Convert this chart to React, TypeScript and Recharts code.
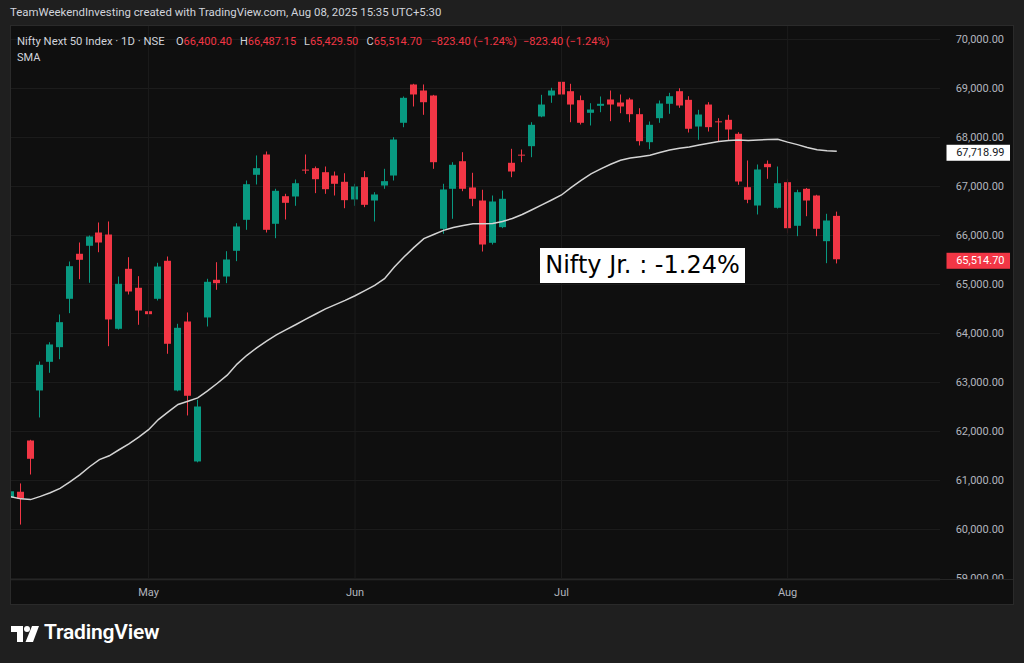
import React from 'react';
import { ComposedChart, Bar, Line, XAxis, YAxis, CartesianGrid, ReferenceLine } from 'recharts';

const TEAL = '#089981';
const RED = '#f23645';
const GRID = '#1c1c1c';
const AXIS_TEXT = '#b2b5be';
const FONT = 'Roboto, "Liberation Sans", sans-serif';

const dates = [
  '2025-04-08', '2025-04-09', '2025-04-11', '2025-04-15', '2025-04-16', '2025-04-17', '2025-04-21', '2025-04-22',
  '2025-04-23', '2025-04-24', '2025-04-25', '2025-04-28', '2025-04-29', '2025-04-30', '2025-05-02', '2025-05-05',
  '2025-05-06', '2025-05-07', '2025-05-08', '2025-05-09', '2025-05-12', '2025-05-13', '2025-05-14', '2025-05-15',
  '2025-05-16', '2025-05-19', '2025-05-20', '2025-05-21', '2025-05-22', '2025-05-23', '2025-05-26', '2025-05-27',
  '2025-05-28', '2025-05-29', '2025-05-30', '2025-06-02', '2025-06-03', '2025-06-04', '2025-06-05', '2025-06-06',
  '2025-06-09', '2025-06-10', '2025-06-11', '2025-06-12', '2025-06-13', '2025-06-16', '2025-06-17', '2025-06-18',
  '2025-06-19', '2025-06-20', '2025-06-23', '2025-06-24', '2025-06-25', '2025-06-26', '2025-06-27', '2025-06-30',
  '2025-07-01', '2025-07-02', '2025-07-03', '2025-07-04', '2025-07-07', '2025-07-08', '2025-07-09', '2025-07-10',
  '2025-07-11', '2025-07-14', '2025-07-15', '2025-07-16', '2025-07-17', '2025-07-18', '2025-07-21', '2025-07-22',
  '2025-07-23', '2025-07-24', '2025-07-25', '2025-07-28', '2025-07-29', '2025-07-30', '2025-07-31', '2025-08-01',
  '2025-08-04', '2025-08-05', '2025-08-06', '2025-08-07', '2025-08-08',
];

const opens = [
  60650, 60770, 61816, 62837, 63422, 63721, 64708, 65627, 65790, 66061, 66020, 64096, 65320, 64933, 64455, 64708,
  65484, 62837, 64245, 61388, 64327, 65096, 65163, 65688, 66320, 67239, 67653, 66239, 66802, 66796, 67345, 67374,
  67292, 67224, 67096, 66735, 67190, 66714, 67020, 67224, 68300, 69082, 68959, 68857, 66137, 66953, 67516, 66980,
  66714, 65851, 66170, 67484, 67650, 67823, 68429, 68857, 69137, 68945, 68762, 68504, 68647, 68776, 68714, 68776,
  68476, 67904, 68394, 68688, 68945, 68769, 68224, 68673, 68330, 68361, 68076, 66986, 66612, 67463, 66565, 67088,
  66198, 66953, 66816, 65884, 66400.4,
];
const highs = [
  60790, 60940, 61830, 63429, 63822, 64388, 65469, 65857, 66000, 66265, 66286, 65163, 65557, 65170, 65096, 65443,
  65571, 64198, 64429, 62647, 65116, 65455, 65680, 66251, 67122, 67633, 67714, 66953, 66851, 67143, 67653, 67408,
  67408, 67306, 67271, 67055, 67313, 66884, 67361, 68006, 68837, 69096, 69082, 68870, 67055, 67496, 67700, 67280,
  66933, 66816, 66918, 67769, 67755, 68312, 68871, 69014, 69149, 69096, 68857, 68700, 68837, 68959, 68878, 68810,
  68598, 68327, 68755, 68912, 69006, 68843, 68565, 68721, 68394, 68463, 68108, 67531, 67449, 67531, 67408, 67157,
  66933, 66970, 66830, 66443, 66487.15,
];
const lows = [
  60620, 60100, 61122, 62286, 63198, 63475, 64415, 65108, 65035, 65659, 63741, 64080, 64796, 64178, 64129, 64673,
  63586, 62820, 62327, 61370, 64143, 64892, 65027, 65476, 66116, 67041, 66061, 65945, 66327, 66606, 67259, 66864,
  66851, 66816, 66557, 66606, 66578, 66286, 66953, 67122, 68210, 68633, 68463, 67361, 66035, 66341, 66904, 66598,
  65673, 65816, 66150, 67190, 67496, 67598, 68414, 68708, 68653, 68312, 68265, 68245, 68516, 68333, 68496, 68312,
  67837, 67761, 68300, 68484, 68606, 68102, 67953, 68122, 67918, 67939, 67035, 66659, 66429, 67157, 66550, 66047,
  65986, 66394, 65986, 65435, 65429.5,
];
const closes = [
  60780, 60630, 61443, 63361, 63776, 64231, 65374, 65504, 65980, 65857, 64286, 65014, 64857, 64469, 64394, 65367,
  63790, 64116, 62729, 62510, 65055, 65027, 65510, 66184, 67047, 67374, 66116, 66912, 66667, 67067, 67335, 67149,
  66945, 67055, 66721, 67000, 66626, 66837, 67109, 67959, 68810, 68878, 68720, 67496, 66939, 67443, 66953, 66749,
  65816, 66694, 66749, 67306, 67630, 68259, 68673, 68959, 68878, 68673, 68300, 68571, 68688, 68673, 68633, 68476,
  67925, 68259, 68694, 68843, 68653, 68178, 68469, 68211, 68310, 68163, 67102, 66729, 67347, 67394, 67067, 66149,
  66884, 66714, 66137, 66306, 65514.7,
];
const smaValues = [
  60669, 60625, 60610, 60675, 60751, 60839, 60971, 61114, 61280, 61427, 61504, 61627, 61747, 61886, 62037, 62243,
  62400, 62551, 62616, 62686, 62829, 62984, 63149, 63376, 63555, 63708, 63845, 63971, 64078, 64184, 64292, 64398,
  64502, 64588, 64676, 64771, 64876, 64980, 65120, 65355, 65565, 65757, 65935, 66020, 66104, 66163, 66206, 66239,
  66239, 66247, 66286, 66347, 66429, 66525, 66625, 66725, 66827, 66980, 67125, 67257, 67361, 67455, 67535, 67582,
  67608, 67637, 67692, 67743, 67782, 67808, 67847, 67882, 67916, 67939, 67947, 67941, 67949, 67961, 67963, 67906,
  67855, 67796, 67751, 67731, 67718.99,
];

const monthStarts = ['2025-05-02', '2025-06-02', '2025-07-01', '2025-08-01'];
const monthLabels = ['May', 'Jun', 'Jul', 'Aug'];
const priceTicks = [59000, 60000, 61000, 62000, 63000, 64000, 65000, 66000, 67000, 68000, 69000, 70000];
const padCategories = ['p1', 'p2', 'p3', 'p4', 'p5', 'p6', 'p7', 'p8', 'p9', 'p10'];

const lastClose = closes[closes.length - 1];
const lastSma = smaValues[smaValues.length - 1];
const changeText = '\u2212823.40 (\u22121.24%)';

const rows: any[] = [
  ...dates.map((d, i) => ({ date: d, o: opens[i], h: highs[i], l: lows[i], c: closes[i], sma: smaValues[i] })),
  ...padCategories.map((p) => ({ date: p })),
];

const CHART_W = 1008;
const CHART_H = 580;
const Y_AXIS_W = 74;
const X_AXIS_H = 25;
const PLOT_BOTTOM = CHART_H - X_AXIS_H;
const PRICE_RIGHT = 998;

const fmt = (v: number) =>
  v.toLocaleString('en-US', { minimumFractionDigits: 2, maximumFractionDigits: 2 });

const Candle = (props: any) => {
  const { x, y, width, height, payload } = props;
  if (!payload || payload.o == null) return null;
  const { o, h, l, c } = payload;
  const top = Math.min(y, y + height);
  const span = Math.abs(height);
  const k = span / (h - l);
  const yOf = (v: number) => top + (h - v) * k;
  const color = c >= o ? TEAL : RED;
  const bt = yOf(Math.max(o, c));
  const bb = yOf(Math.min(o, c));
  const rx = Math.round(x);
  const cx = rx + Math.floor(width / 2) + 0.5;
  return (
    <g>
      <line x1={cx} x2={cx} y1={top} y2={top + span} stroke={color} strokeWidth={1} />
      <rect x={rx} y={bt} width={width} height={Math.max(1, bb - bt)} fill={color} />
    </g>
  );
};

const PriceTick = (props: any) => {
  const { y, payload } = props;
  const id = `clip-${payload.value}`;
  return (
    <g>
      <defs>
        <clipPath id={id}>
          <rect x={900} y={0} width={120} height={PLOT_BOTTOM} />
        </clipPath>
      </defs>
      <text
        x={PRICE_RIGHT}
        y={y}
        textAnchor="end"
        dominantBaseline="central"
        fill={AXIS_TEXT}
        fontSize={11}
        fontFamily={FONT}
        clipPath={`url(#${id})`}
      >
        {fmt(payload.value)}
      </text>
    </g>
  );
};

const TimeTick = (props: any) => {
  const { x, payload } = props;
  const k = monthStarts.indexOf(payload.value);
  if (k < 0) return <g />;
  return (
    <text x={x} y={PLOT_BOTTOM + 12} textAnchor="middle" dominantBaseline="central" fill={AXIS_TEXT} fontSize={11} fontFamily={FONT}>
      {monthLabels[k]}
    </text>
  );
};

const PriceBox = (props: any) => {
  const { viewBox, text, bg, fg } = props;
  if (!viewBox) return null;
  const right = viewBox.x + viewBox.width;
  const bx = right + 6.5;
  const cy = viewBox.y + 1.5;
  return (
    <g>
      <rect x={bx} y={cy - 8} width={63.5} height={16} fill={bg} />
      <text x={bx + 58} y={cy} textAnchor="end" dominantBaseline="central" fill={fg} fontSize={11} fontFamily={FONT}>
        {text}
      </text>
    </g>
  );
};

const Logo = () => (
  <svg width={30} height={18} viewBox="0 0 30 18" style={{ position: 'absolute', left: 11, top: 625 }}>
    <path d="M0 1 H12 V17 H6 V7 H0 Z" fill="#ffffff" />
    <circle cx={16} cy={4} r={3} fill="#ffffff" />
    <path d="M21 1 H28 L22 17 H14.5 Z" fill="#ffffff" />
  </svg>
);

const legendStyle: React.CSSProperties = {
  position: 'absolute',
  top: 10,
  fontSize: 11,
  whiteSpace: 'nowrap',
  color: RED,
};

export default function App() {
  return (
    <div
      style={{
        position: 'fixed',
        left: 0,
        top: 0,
        width: 1024,
        height: 663,
        background: '#1f1f1f',
        overflow: 'hidden',
        fontFamily: FONT,
      }}
    >
      <div style={{ position: 'absolute', left: 10, top: 5, fontSize: 11.4, color: '#d1d4dc', whiteSpace: 'nowrap' }}>
        TeamWeekendInvesting created with TradingView.com, Aug 08, 2025 15:35 UTC+5:30
      </div>

      <div
        style={{
          position: 'absolute',
          left: 10,
          top: 25,
          width: 1004,
          height: 580,
          background: '#0f0f0f',
          overflow: 'hidden',
        }}
      >
        <div style={{ position: 'absolute', left: -4, top: 0 }}>
          <ComposedChart
            width={CHART_W}
            height={CHART_H}
            data={rows}
            margin={{ top: 0, right: 0, bottom: 0, left: 0 }}
            barCategoryGap={0}
          >
            <CartesianGrid stroke={GRID} horizontal={true} vertical={false} />
            <XAxis
              dataKey="date"
              height={X_AXIS_H}
              interval={0}
              axisLine={false}
              tickLine={false}
              tick={<TimeTick />}
            />
            <YAxis
              orientation="right"
              width={Y_AXIS_W}
              type="number"
              domain={[58969, 70296]}
              allowDataOverflow
              ticks={priceTicks}
              interval={0}
              axisLine={false}
              tickLine={false}
              tick={<PriceTick />}
            />
            {monthStarts.map((d) => (
              <ReferenceLine key={d} x={d} stroke={GRID} strokeWidth={1} />
            ))}
            <Bar
              dataKey={(d: any) => (d.o == null ? null : [d.l, d.h])}
              barSize={7}
              shape={<Candle />}
              isAnimationActive={false}
            />
            <Line
              dataKey="sma"
              type="linear"
              stroke="#d4d4d4"
              strokeWidth={1.5}
              dot={false}
              activeDot={false}
              isAnimationActive={false}
            />
            <ReferenceLine
              y={lastSma}
              stroke="none"
              label={<PriceBox text={fmt(lastSma)} bg="#ffffff" fg="#131722" />}
            />
            <ReferenceLine
              y={lastClose}
              stroke="none"
              label={<PriceBox text={fmt(lastClose)} bg={RED} fg="#ffffff" />}
            />
          </ComposedChart>
        </div>

        <div style={{ position: 'absolute', left: 0, top: 554, width: 1004, height: 1, background: '#262626' }} />

        <div style={{ ...legendStyle, left: 7, top: 9.5, fontSize: 11.3, color: '#d1d4dc' }}>
          Nifty Next 50 Index · 1D · NSE
        </div>
        {[
          ['O', fmt(opens[opens.length - 1]), 166],
          ['H', fmt(highs[highs.length - 1]), 230],
          ['L', fmt(lows[lows.length - 1]), 294],
          ['C', fmt(lastClose), 356.5],
        ].map(([k, v, x]) => (
          <div key={k as string} style={{ ...legendStyle, left: x as number }}>
            <span style={{ color: '#d1d4dc' }}>{k}</span>
            {v}
          </div>
        ))}
        <div style={{ ...legendStyle, left: 420.5 }}>{changeText}</div>
        <div style={{ ...legendStyle, left: 513 }}>{changeText}</div>
        <div style={{ ...legendStyle, left: 7, top: 26, color: '#d1d4dc' }}>SMA</div>

        <div
          style={{
            position: 'absolute',
            left: 530,
            top: 222.5,
            width: 205,
            height: 35,
            background: '#ffffff',
            color: '#000000',
            fontFamily: '"DejaVu Sans", Verdana, sans-serif',
            fontSize: 24,
            lineHeight: '35px',
            textAlign: 'center',
            whiteSpace: 'nowrap',
          }}
        >
          Nifty Jr. : -1.24%
        </div>
      </div>

      <div
        style={{
          position: 'absolute',
          left: 10,
          top: 25,
          width: 1002,
          height: 578,
          border: '1px solid #2a2a2a',
          pointerEvents: 'none',
        }}
      />

      <Logo />
      <div
        style={{
          position: 'absolute',
          left: 44,
          top: 620,
          fontSize: 21,
          fontWeight: 600,
          color: '#ffffff',
          whiteSpace: 'nowrap',
          letterSpacing: -0.2,
        }}
      >
        TradingView
      </div>
    </div>
  );
}
